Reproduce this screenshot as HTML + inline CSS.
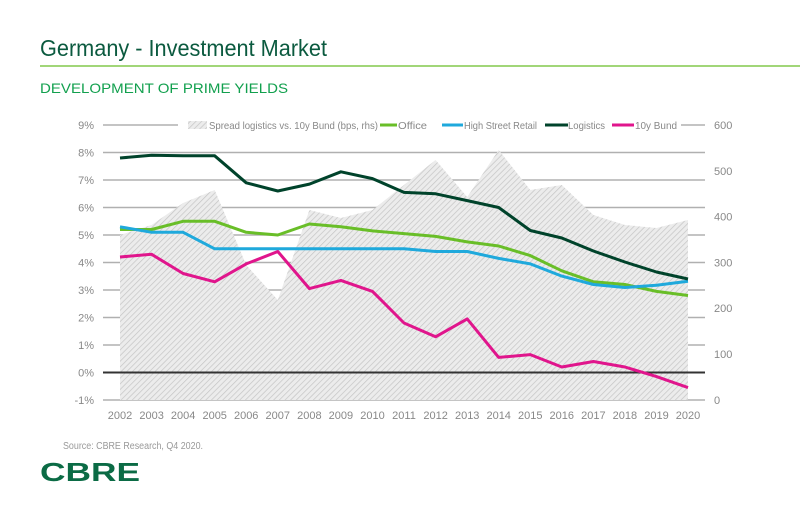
<!DOCTYPE html>
<html><head><meta charset="utf-8"><style>
body{margin:0;background:#fff;}
</style></head><body>
<svg width="800" height="504" viewBox="0 0 800 504" xmlns="http://www.w3.org/2000/svg" font-family="Liberation Sans, sans-serif">
<defs>
<pattern id="h" width="4" height="4" patternUnits="userSpaceOnUse" patternTransform="rotate(45)">
<rect width="4" height="4" fill="#ececec"/>
<line x1="0" y1="0" x2="0" y2="4" stroke="#c4c4c4" stroke-width="1.4"/>
</pattern>
</defs>
<text x="40" y="56" font-size="23" fill="#0b5a3f" textLength="287" lengthAdjust="spacingAndGlyphs">Germany - Investment Market</text>
<line x1="40" y1="66" x2="800" y2="66" stroke="#69be28" stroke-width="1.2"/>
<text x="40" y="93" font-size="14" fill="#12a04e" textLength="248" lengthAdjust="spacingAndGlyphs">DEVELOPMENT OF PRIME YIELDS</text>
<g stroke="#b0b0b0" stroke-width="1.5">
<line x1="103" y1="125" x2="178" y2="125"/>
<line x1="681" y1="125" x2="705" y2="125"/>
<line x1="103" y1="152.5" x2="705" y2="152.5"/>
<line x1="103" y1="180" x2="705" y2="180"/>
<line x1="103" y1="207.5" x2="705" y2="207.5"/>
<line x1="103" y1="235" x2="705" y2="235"/>
<line x1="103" y1="262.5" x2="705" y2="262.5"/>
<line x1="103" y1="290" x2="705" y2="290"/>
<line x1="103" y1="317.5" x2="705" y2="317.5"/>
<line x1="103" y1="345" x2="705" y2="345"/>
<line x1="103" y1="400" x2="705" y2="400"/>
</g>
<polygon fill="url(#h)" points="120,400 120,235 151.6,225 183.1,203 214.7,190 246.2,265 277.8,300 309.4,210 340.9,218 372.5,210 404,185 435.6,160 467.2,197 498.7,150 530.3,190 561.8,185 593.4,215 624.9,225 656.5,228 688,220 688,400"/>
<line x1="103" y1="372.5" x2="705" y2="372.5" stroke="#333" stroke-width="2"/>
<g fill="none" stroke-width="3" stroke-linejoin="round">
<polyline stroke="#69be28" points="120,229.5 151.6,229.5 183.1,221.3 214.7,221.3 246.2,232.3 277.8,235 309.4,224 340.9,226.8 372.5,230.9 404,233.6 435.6,236.4 467.2,241.9 498.7,246 530.3,255.6 561.8,270.8 593.4,281.8 624.9,284.5 656.5,291.4 688,295.5"/>
<polyline stroke="#1fa9dc" points="120,226.8 151.6,232.3 183.1,232.3 214.7,248.8 246.2,248.8 277.8,248.8 309.4,248.8 340.9,248.8 372.5,248.8 404,248.8 435.6,251.5 467.2,251.5 498.7,258.4 530.3,263.9 561.8,276.1 593.4,284.5 624.9,287.5 656.5,285.3 688,281.3"/>
<polyline stroke="#00432b" points="120,158 151.6,155.3 183.1,155.8 214.7,155.8 246.2,182.8 277.8,191 309.4,184.1 340.9,171.8 372.5,178.6 404,192.4 435.6,193.8 467.2,200.6 498.7,207.5 530.3,230.5 561.8,238 593.4,251 624.9,262 656.5,272 688,279"/>
<polyline stroke="#e0158c" points="120,257 151.6,254.3 183.1,273.5 214.7,281.8 246.2,263.9 277.8,251.5 309.4,288.6 340.9,280.4 372.5,291.4 404,323 435.6,336.8 467.2,318.9 498.7,357.4 530.3,354.6 561.8,367 593.4,361.5 624.9,367 656.5,376.6 688,387.6"/>
</g>
<g font-size="11" fill="#888" text-anchor="end">
<text x="94" y="129">9%</text><text x="94" y="156.5">8%</text><text x="94" y="184">7%</text>
<text x="94" y="211.5">6%</text><text x="94" y="239">5%</text><text x="94" y="266.5">4%</text>
<text x="94" y="294">3%</text><text x="94" y="321.5">2%</text><text x="94" y="349">1%</text>
<text x="94" y="376.5">0%</text><text x="94" y="404">-1%</text>
</g>
<g font-size="11" fill="#888" text-anchor="start">
<text x="714" y="129">600</text><text x="714" y="175">500</text><text x="714" y="220.5">400</text>
<text x="714" y="266.5">300</text><text x="714" y="312">200</text><text x="714" y="358">100</text><text x="714" y="404">0</text>
</g>
<g font-size="11" fill="#888" text-anchor="middle">
<text x="120" y="419">2002</text><text x="151.6" y="419">2003</text><text x="183.1" y="419">2004</text><text x="214.7" y="419">2005</text><text x="246.2" y="419">2006</text><text x="277.8" y="419">2007</text><text x="309.4" y="419">2008</text><text x="340.9" y="419">2009</text><text x="372.5" y="419">2010</text><text x="404" y="419">2011</text><text x="435.6" y="419">2012</text><text x="467.2" y="419">2013</text><text x="498.7" y="419">2014</text><text x="530.3" y="419">2015</text><text x="561.8" y="419">2016</text><text x="593.4" y="419">2017</text><text x="624.9" y="419">2018</text><text x="656.5" y="419">2019</text><text x="688" y="419">2020</text>
</g>
<g font-size="10.5" fill="#888" lengthAdjust="spacingAndGlyphs">
<rect x="188" y="121" width="19" height="8" fill="url(#h)"/>
<text x="209" y="129" textLength="169" lengthAdjust="spacingAndGlyphs">Spread logistics vs. 10y Bund (bps, rhs)</text>
<line x1="380" y1="125" x2="397" y2="125" stroke="#69be28" stroke-width="3"/>
<text x="398" y="129" textLength="29" lengthAdjust="spacingAndGlyphs">Office</text>
<line x1="442" y1="125" x2="463" y2="125" stroke="#1fa9dc" stroke-width="3"/>
<text x="464" y="129" textLength="73" lengthAdjust="spacingAndGlyphs">High Street Retail</text>
<line x1="545" y1="125" x2="568" y2="125" stroke="#00432b" stroke-width="3"/>
<text x="568" y="129" textLength="37" lengthAdjust="spacingAndGlyphs">Logistics</text>
<line x1="612" y1="125" x2="634" y2="125" stroke="#e0158c" stroke-width="3"/>
<text x="635" y="129" textLength="42" lengthAdjust="spacingAndGlyphs">10y Bund</text>
</g>
<text x="63" y="449" font-size="10" fill="#999" textLength="140" lengthAdjust="spacingAndGlyphs">Source: CBRE Research, Q4 2020.</text>
<text x="40" y="481" font-size="26" font-weight="bold" fill="#0b6b45" textLength="100" lengthAdjust="spacingAndGlyphs">CBRE</text>
</svg>
</body></html>
